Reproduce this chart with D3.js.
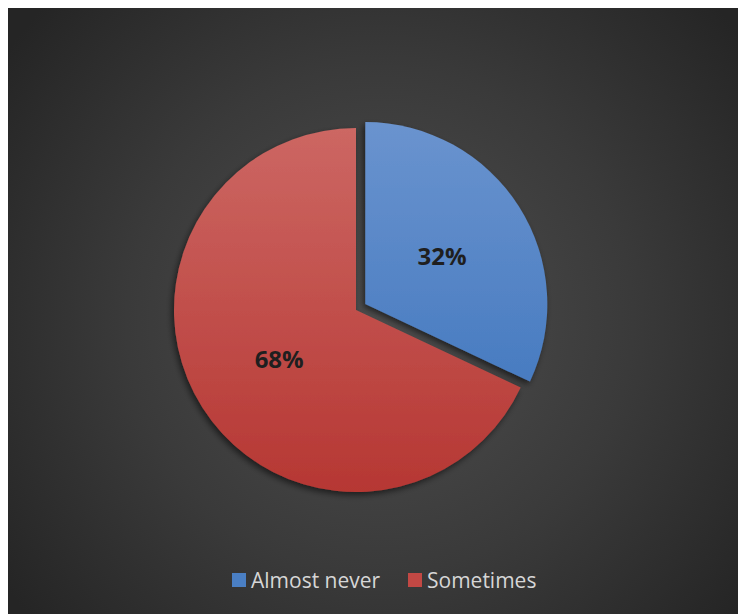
<!DOCTYPE html>
<html>
<head>
<meta charset="utf-8">
<script src="https://cdn.jsdelivr.net/npm/d3@7"></script>
<style>
  html, body { margin: 0; padding: 0; background: #ffffff; }
  svg { display: block; }
</style>
</head>
<body>
<svg id="chart" width="738" height="614"></svg>
<script>
// Survey answer shares
const categories = ["Almost never", "Sometimes"];
const shares = [32, 68];
const labels = ["32%", "68%"];

const W = 738, H = 614;
const svg = d3.select("#chart");
const defs = svg.append("defs");

// Dark panel with a soft radial light in the middle
const bg = defs.append("radialGradient").attr("id", "bgGrad")
  .attr("gradientUnits", "userSpaceOnUse")
  .attr("cx", 380).attr("cy", 320).attr("r", 460);
bg.append("stop").attr("offset", "0%").attr("stop-color", "#4f4f4f");
bg.append("stop").attr("offset", "55%").attr("stop-color", "#3a3a3a");
bg.append("stop").attr("offset", "100%").attr("stop-color", "#252525");

svg.append("rect").attr("x", 8).attr("y", 8)
  .attr("width", W - 8).attr("height", H - 8)
  .attr("fill", "url(#bgGrad)");

const cx = 356, cy = 310, R = 182, explode = 11;

// Slice fills: lighter at the top, deeper at the bottom (in pie-local coordinates)
const fills = [
  { id: "gBlue", top: "#6b94cf", bottom: "#3a72bb" },
  { id: "gRed", top: "#cd6864", bottom: "#b63733" }
];
fills.forEach(f => {
  const g = defs.append("linearGradient").attr("id", f.id)
    .attr("gradientUnits", "userSpaceOnUse")
    .attr("x1", 0).attr("y1", -R - 8).attr("x2", 0).attr("y2", R);
  g.append("stop").attr("offset", "0%").attr("stop-color", f.top);
  g.append("stop").attr("offset", "100%").attr("stop-color", f.bottom);
});

// Drop shadow under the slices
const shadow = defs.append("filter").attr("id", "shadow")
  .attr("x", "-20%").attr("y", "-20%").attr("width", "140%").attr("height", "140%");
shadow.append("feGaussianBlur").attr("in", "SourceAlpha").attr("stdDeviation", 3).attr("result", "b");
shadow.append("feOffset").attr("in", "b").attr("dx", -2).attr("dy", 3).attr("result", "o");
shadow.append("feComponentTransfer").attr("in", "o").attr("result", "s")
  .append("feFuncA").attr("type", "linear").attr("slope", 0.55);
const merge = shadow.append("feMerge");
merge.append("feMergeNode").attr("in", "s");
merge.append("feMergeNode").attr("in", "SourceGraphic");

const color = d3.scaleOrdinal().domain(categories).range(["url(#gBlue)", "url(#gRed)"]);
const swatch = d3.scaleOrdinal().domain(categories).range(["#4a7fc4", "#c24844"]);

const pie = d3.pie().sort(null).value(d => d.v);
const arcs = pie(categories.map((c, i) => ({ c, v: shares[i], label: labels[i] })));
const arc = d3.arc().innerRadius(0).outerRadius(R);
const labelArc = d3.arc().innerRadius(R * 0.5).outerRadius(R * 0.5);

const g = svg.append("g").attr("transform", `translate(${cx},${cy})`);

// Only the first slice is pulled out from the center
const offset = (d, i) => {
  if (i !== 0) return [0, 0];
  const a = (d.startAngle + d.endAngle) / 2;
  return [Math.sin(a) * explode, -Math.cos(a) * explode];
};

g.selectAll("path.slice").data(arcs).enter().append("path")
  .attr("class", "slice")
  .attr("d", arc)
  .attr("fill", d => color(d.data.c))
  .attr("filter", "url(#shadow)")
  .attr("transform", (d, i) => `translate(${offset(d, i)})`);

g.selectAll("text.pct").data(arcs).enter().append("text")
  .attr("class", "pct")
  .attr("transform", (d, i) => {
    const [x, y] = labelArc.centroid(d);
    const [ox, oy] = offset(d, i);
    return `translate(${x + ox},${y + oy})`;
  })
  .attr("text-anchor", "middle")
  .attr("dominant-baseline", "central")
  .attr("font-family", "'Open Sans', 'Liberation Sans', sans-serif")
  .attr("font-weight", "bold")
  .attr("font-size", 24)
  .attr("fill", "#1f1f1f")
  .text(d => d.data.label);

// Legend along the bottom
const legend = svg.append("g").attr("transform", "translate(232,580)");
const items = [{ c: categories[0], x: 0 }, { c: categories[1], x: 176 }];
items.forEach(it => {
  const li = legend.append("g").attr("transform", `translate(${it.x},0)`);
  li.append("rect").attr("x", 0).attr("y", -7).attr("width", 14).attr("height", 14)
    .attr("fill", swatch(it.c));
  li.append("text").attr("x", 19).attr("y", 0)
    .attr("dominant-baseline", "central")
    .attr("font-family", "'Open Sans', 'Liberation Sans', sans-serif")
    .attr("font-size", 21)
    .attr("fill", "#d6d6d6")
    .text(it.c);
});
</script>
</body>
</html>
